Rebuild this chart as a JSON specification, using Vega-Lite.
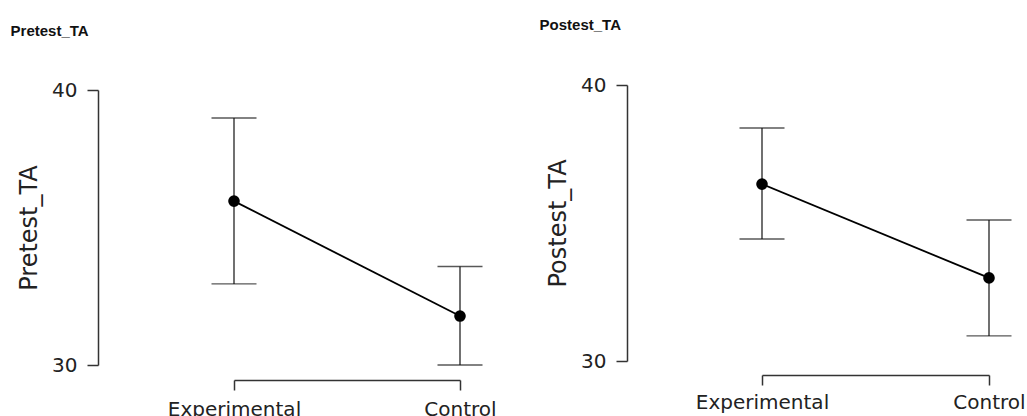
{
  "$schema": "https://vega.github.io/schema/vega-lite/v6.json",
  "padding": {"left": 10, "top": 18, "right": 5, "bottom": 0},
  "background": "white",
  "config": {
    "view": {"stroke": null},
    "font": "DejaVu Sans",
    "axis": {"grid": false, "domainColor": "#333", "domainWidth": 1.5, "tickColor": "#333", "tickWidth": 1.5, "labelColor": "#222", "titleColor": "#222", "labelFont": "DejaVu Sans", "titleFont": "DejaVu Sans", "labelFontSize": 20, "titleFontSize": 24, "titleFontWeight": "normal"}
  },
  "datasets": {
    "pre": [
      {"group": "Experimental", "mean": 35.96, "lower": 32.95, "upper": 38.98},
      {"group": "Control", "mean": 31.78, "lower": 30.0, "upper": 33.58}
    ],
    "post": [
      {"group": "Experimental", "mean": 36.41, "lower": 34.42, "upper": 38.44},
      {"group": "Control", "mean": 33.01, "lower": 30.91, "upper": 35.11}
    ]
  },
  "spacing": 42,
  "hconcat": [
    {
      "width": 226, "height": 280,
      "title": {"text": "Pretest_TA", "anchor": "start", "frame": "bounds", "font": "Liberation Sans", "fontSize": 15, "fontWeight": "bold", "color": "#111", "offset": 41, "dx": -7},
      "data": {"name": "pre"},
      "encoding": {
        "x": {"field": "group", "type": "nominal", "sort": ["Experimental", "Control"], "scale": {"type": "point", "padding": 0},
              "axis": {"title": null, "labelAngle": 0, "offset": 15, "tickSize": 10, "labelPadding": 9}}
      },
      "layer": [
        {"mark": {"type": "rule", "color": "#111", "strokeWidth": 1.2},
         "encoding": {"y": {"field": "lower", "type": "quantitative", "title": "Pretest_TA", "scale": {"domain": [30, 40], "range": [280, 5], "nice": false, "zero": false},
                            "axis": {"values": [30, 40], "offset": 136, "tickSize": 11, "labelPadding": 10, "titlePadding": 10}},
                      "y2": {"field": "upper"}}},
        {"mark": {"type": "tick", "color": "#111", "size": 45, "thickness": 1.4}, "encoding": {"y": {"field": "upper", "type": "quantitative", "title": "Pretest_TA"}}},
        {"mark": {"type": "tick", "color": "#111", "size": 45, "thickness": 1.4}, "encoding": {"y": {"field": "lower", "type": "quantitative", "title": "Pretest_TA"}}},
        {"mark": {"type": "line", "color": "#000", "strokeWidth": 1.8}, "encoding": {"y": {"field": "mean", "type": "quantitative", "title": "Pretest_TA"}}},
        {"mark": {"type": "point", "filled": true, "color": "#000", "opacity": 1, "size": 135}, "encoding": {"y": {"field": "mean", "type": "quantitative", "title": "Pretest_TA"}}}
      ]
    },
    {
      "width": 227, "height": 280,
      "title": {"text": "Postest_TA", "anchor": "start", "frame": "bounds", "font": "Liberation Sans", "fontSize": 15, "fontWeight": "bold", "color": "#111", "offset": 42, "dx": -7},
      "data": {"name": "post"},
      "encoding": {
        "x": {"field": "group", "type": "nominal", "sort": ["Experimental", "Control"], "scale": {"type": "point", "padding": 0},
              "axis": {"title": null, "labelAngle": 0, "offset": 10, "tickSize": 10, "labelPadding": 7}}
      },
      "layer": [
        {"mark": {"type": "rule", "color": "#111", "strokeWidth": 1.2},
         "encoding": {"y": {"field": "lower", "type": "quantitative", "title": "Postest_TA", "scale": {"domain": [30, 40], "range": [276, 0], "nice": false, "zero": false},
                            "axis": {"values": [30, 40], "offset": 135, "tickSize": 11, "labelPadding": 10, "titlePadding": 10}},
                      "y2": {"field": "upper"}}},
        {"mark": {"type": "tick", "color": "#111", "size": 45, "thickness": 1.4}, "encoding": {"y": {"field": "upper", "type": "quantitative", "title": "Postest_TA"}}},
        {"mark": {"type": "tick", "color": "#111", "size": 45, "thickness": 1.4}, "encoding": {"y": {"field": "lower", "type": "quantitative", "title": "Postest_TA"}}},
        {"mark": {"type": "line", "color": "#000", "strokeWidth": 1.8}, "encoding": {"y": {"field": "mean", "type": "quantitative", "title": "Postest_TA"}}},
        {"mark": {"type": "point", "filled": true, "color": "#000", "opacity": 1, "size": 135}, "encoding": {"y": {"field": "mean", "type": "quantitative", "title": "Postest_TA"}}}
      ]
    }
  ]
}
